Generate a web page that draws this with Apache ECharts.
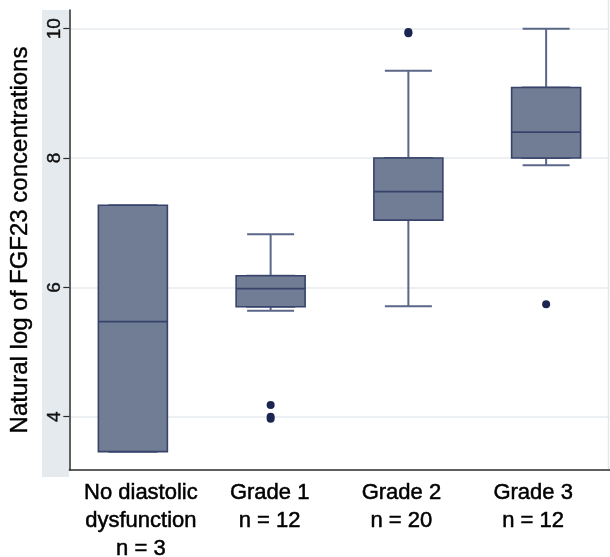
<!DOCTYPE html>
<html>
<head>
<meta charset="utf-8">
<script src="https://cdn.jsdelivr.net/npm/echarts@6/dist/echarts.min.js"></script>
<style>
html,body{margin:0;padding:0;background:#fff;}
#chart{width:610px;height:557px;}
</style>
</head>
<body>
<div id="chart"></div>
<script>
// ---- data ----
var groupNames = ['No diastolic\ndysfunction', 'Grade 1', 'Grade 2', 'Grade 3'];
var groupN = [3, 12, 20, 12];
var whiskerLow  = [3.46, 5.64, 5.71, 7.89];
var q1          = [3.46, 5.70, 7.04, 8.00];
var median      = [5.47, 5.98, 7.48, 8.40];
var q3          = [7.27, 6.18, 8.00, 9.09];
var whiskerHigh = [7.27, 6.82, 9.35, 10.00];
var outlierGroup = [1, 1, 1, 2, 2, 3];
var outlierValue = [4.18, 4.00, 3.97, 9.95, 9.93, 5.74];
var yTicks = [4, 6, 8, 10];
var yMin = 3.176, yMax = 10.289;
var yTitle = 'Natural log of FGF23 concentrations';

// ---- build options ----
var categories = groupNames.map(function (g, i) { return g + '\nn = ' + groupN[i]; });
var boxData = q1.map(function (v, i) { return [q1[i], q1[i], median[i], q3[i], q3[i]]; });
var whiskerData = q1.map(function (v, i) { return [whiskerLow[i], q1[i], median[i], q3[i], whiskerHigh[i]]; });
var outlierData = outlierValue.map(function (v, i) { return [outlierGroup[i], v]; });

var FONT = '"Liberation Sans", Arial, Helvetica, sans-serif';
// small horizontal nudges of the category labels (as in the reference)
var labelStyle = function (padL, padR) {
  return {color: '#000', fontFamily: FONT, fontSize: 22, lineHeight: 28, align: 'center',
          textBorderColor: '#000', textBorderWidth: 0.5, padding: [0, padR, 0, padL]};
};
var chart = echarts.init(document.getElementById('chart'), null, {renderer: 'canvas'});
chart.setOption({
  backgroundColor: '#ffffff',
  animation: false,
  graphic: [
    {type: 'rect', z: -10, silent: true, shape: {x: 42, y: 10, width: 27, height: 467}, style: {fill: '#e5eaee'}},
    {type: 'line', z: -10, silent: true, shape: {x1: 608.5, y1: 0, x2: 608.5, y2: 470}, style: {stroke: '#e3e7eb', lineWidth: 1.5}}
  ],
  grid: [
    {left: 69.3, top: 10, width: 541, height: 460, containLabel: false, outerBoundsMode: 'none'},
    {left: 64, top: 10, width: 551, height: 460, containLabel: false, outerBoundsMode: 'none'}
  ],
  xAxis: [
    {type: 'value', gridIndex: 0, min: 0, max: 1,
     axisLine: {show: true, onZero: false, lineStyle: {color: '#2b2b2b', width: 1.5}},
     axisTick: {show: false}, axisLabel: {show: false}, splitLine: {show: false}},
    {type: 'category', gridIndex: 1, data: categories, boundaryGap: true,
     axisLine: {show: false}, axisTick: {show: false}, splitLine: {show: false},
     axisLabel: {show: true, interval: 0, margin: 9, color: '#000', fontFamily: FONT, fontSize: 22, lineHeight: 28,
       formatter: function (value, idx) { return '{c' + idx + '|' + value + '}'; },
       rich: {c0: labelStyle(16, 0), c1: labelStyle(0, 2), c2: labelStyle(0, 14), c3: labelStyle(0, 26)}}},
    {type: 'category', gridIndex: 1, data: categories, boundaryGap: true, show: false}
  ],
  yAxis: [
    {type: 'value', gridIndex: 0, min: yMin, max: yMax,
     name: yTitle, nameLocation: 'middle', nameGap: 37, nameRotate: 90,
     nameTextStyle: {color: '#000', fontFamily: FONT, fontSize: 24, textBorderColor: '#000', textBorderWidth: 0.4},
     axisLine: {show: true, onZero: false, lineStyle: {color: '#2b2b2b', width: 1.5}},
     axisTick: {show: true, length: 6, customValues: yTicks, lineStyle: {color: '#2b2b2b', width: 1.2}},
     axisLabel: {show: true, customValues: yTicks, rotate: 90, margin: 5, color: '#111', fontFamily: FONT, fontSize: 19,
       textBorderColor: '#111', textBorderWidth: 0.4},
     splitLine: {show: true, lineStyle: {color: '#e6ebef', width: 1.5}}},
    {type: 'value', gridIndex: 1, min: yMin, max: yMax, show: false, splitLine: {show: false}}
  ],
  series: [
    {type: 'boxplot', name: 'whiskers', xAxisIndex: 2, yAxisIndex: 1, data: whiskerData,
     boxWidth: [47, 47], z: 2,
     itemStyle: {color: '#717c95', borderColor: '#5b6787', borderWidth: 2}},
    {type: 'boxplot', name: 'boxes', xAxisIndex: 1, yAxisIndex: 1, data: boxData,
     boxWidth: [69, 69], z: 3,
     itemStyle: {color: '#717c95', borderColor: '#37436b', borderWidth: 1.6}},
    {type: 'scatter', name: 'outliers', xAxisIndex: 1, yAxisIndex: 1, data: outlierData,
     symbol: 'circle', symbolSize: 8, z: 4,
     itemStyle: {color: '#1b2650', opacity: 1}}
  ]
});
</script>
</body>
</html>
